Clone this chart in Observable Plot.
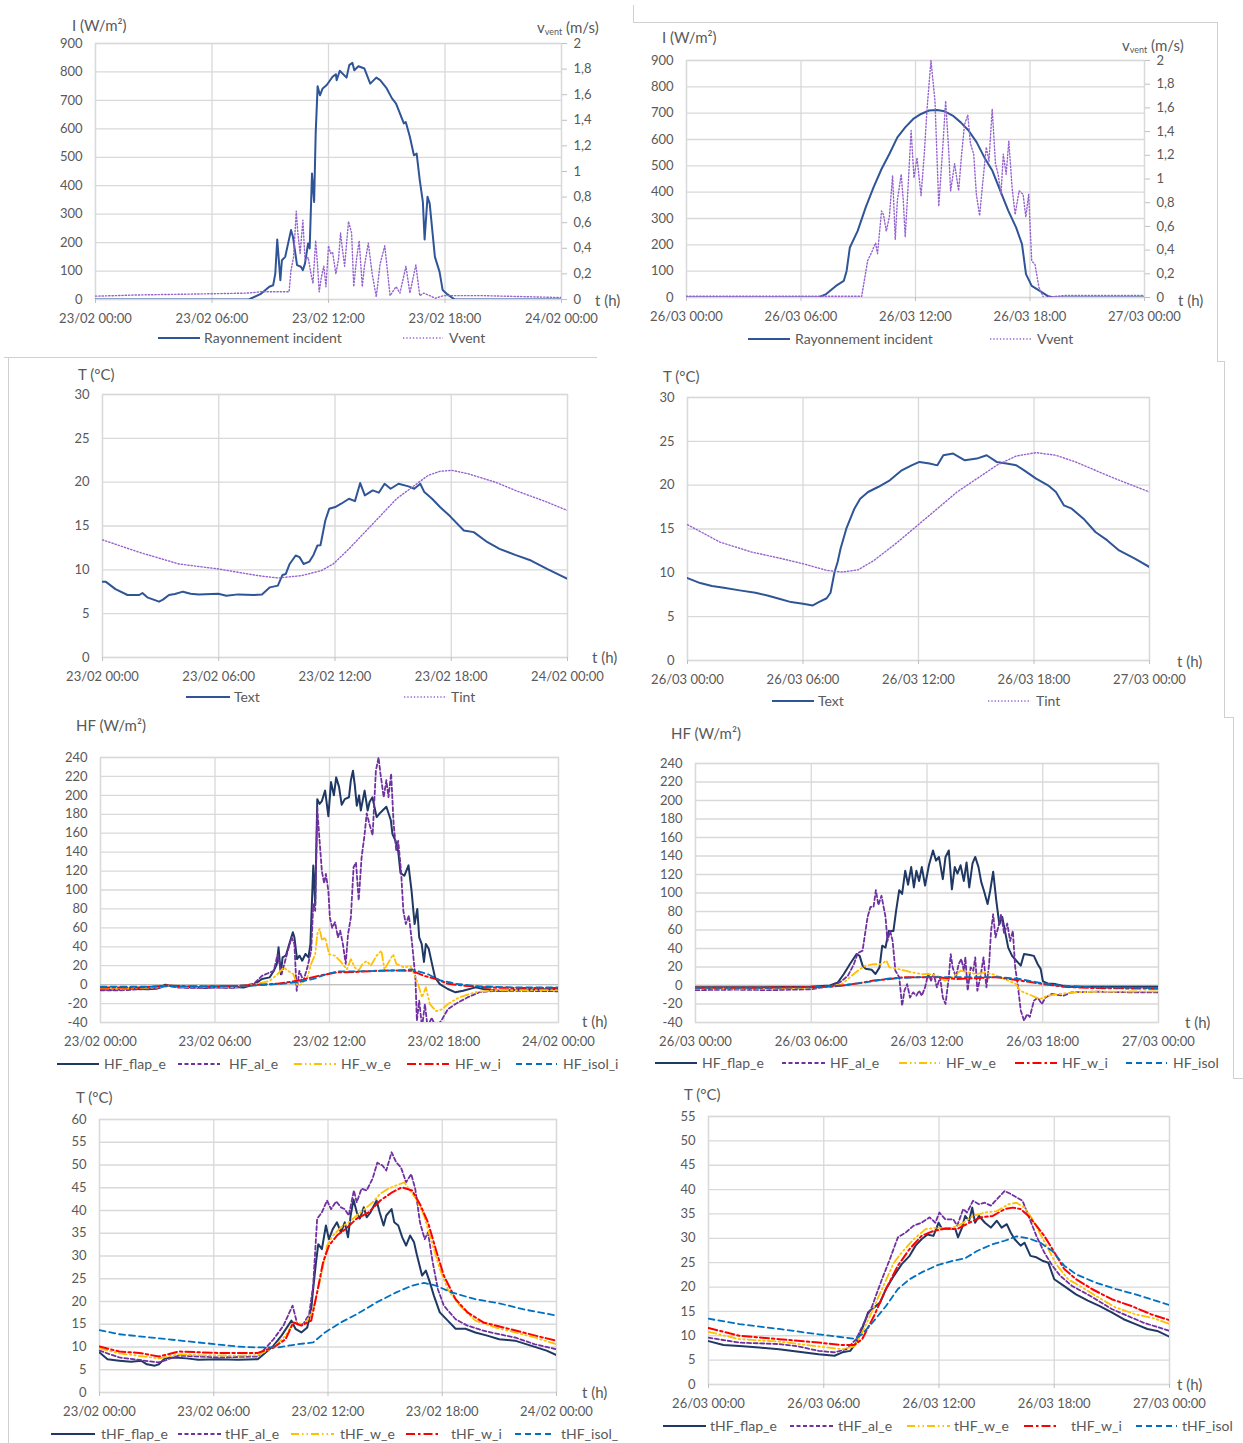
<!DOCTYPE html>
<html><head><meta charset="utf-8">
<script src="https://cdn.jsdelivr.net/npm/d3@7"></script>
<script src="https://cdn.jsdelivr.net/npm/@observablehq/plot@0.6"></script>
<style>
body{margin:0;background:#fff;}
#page{position:relative;width:1243px;height:1443px;overflow:hidden;font-family:Lato,"Open Sans",sans-serif;color:#595959;background:#fff;}
.abs{position:absolute;white-space:nowrap;}
.title{font-size:15px;line-height:20px;}
.title2{font-size:15px;line-height:16px;}
.leg{font-size:14px;line-height:16px;}
.sw{position:absolute;line-height:0;}
.sw svg{display:block;}
.bd{position:absolute;background:#d0d0d0;}
sub{font-size:9px;vertical-align:-2px;line-height:0;}
</style></head><body><div id="page"></div>
<script>
// ---------- tick values and labels ----------
const hourTicks = [0, 6, 12, 18, 24];
const xLabFeb = ["23/02 00:00", "23/02 06:00", "23/02 12:00", "23/02 18:00", "24/02 00:00"];
const xLabMar = ["26/03 00:00", "26/03 06:00", "26/03 12:00", "26/03 18:00", "27/03 00:00"];
const irrTicks = [0, 100, 200, 300, 400, 500, 600, 700, 800, 900];
const windTicks = [0, 0.2, 0.4, 0.6, 0.8, 1, 1.2, 1.4, 1.6, 1.8, 2];
const windLabels = ["0", "0,2", "0,4", "0,6", "0,8", "1", "1,2", "1,4", "1,6", "1,8", "2"];
const t30Ticks = [0, 5, 10, 15, 20, 25, 30];
const hfTicks = [-40, -20, 0, 20, 40, 60, 80, 100, 120, 140, 160, 180, 200, 220, 240];
const t60Ticks = [0, 5, 10, 15, 20, 25, 30, 35, 40, 45, 50, 55, 60];
const t55Ticks = [0, 5, 10, 15, 20, 25, 30, 35, 40, 45, 50, 55];
const windToIrr = 450; // right axis 2 m/s  <->  900 W/m²

// ---------- series: [hour, value] ----------
const irrFeb = [[0,0],[7.9,0],[8.54,21],[8.95,45],[9.15,50],[9.26,91],[9.36,211],[9.52,68],[9.6,138],[9.77,150],[10.07,244],[10.17,220],[10.38,121],[10.58,115],[10.68,103],[10.79,127],[10.95,197],[11.03,179],[11.15,443],[11.26,343],[11.34,584],[11.44,750],[11.56,718],[11.7,742],[11.91,754],[12.21,783],[12.38,792],[12.42,771],[12.58,804],[12.93,780],[13.07,824],[13.23,832],[13.33,806],[13.54,820],[13.85,812],[14.15,759],[14.46,780],[14.66,771],[14.97,745],[15.27,707],[15.48,689],[15.88,619],[15.98,624],[16.19,572],[16.4,507],[16.54,513],[16.7,420],[16.86,343],[16.95,211],[17.1,361],[17.21,338],[17.48,150],[17.72,97],[17.88,33],[18.13,18],[18.5,0],[24,0]];
const windFeb = [[0,0.026],[1,0.03],[2,0.035],[4,0.04],[6,0.045],[7.8,0.05],[8.5,0.06],[9.97,0.06],[10.07,0.23],[10.2,0.33],[10.34,0.69],[10.42,0.52],[10.54,0.36],[10.68,0.62],[10.79,0.31],[10.95,0.33],[11.1,0.2],[11.2,0.125],[11.34,0.46],[11.44,0.26],[11.52,0.06],[11.64,0.18],[11.76,0.26],[11.87,0.1],[12.0,0.42],[12.11,0.36],[12.21,0.37],[12.38,0.2],[12.52,0.32],[12.62,0.52],[12.72,0.39],[12.83,0.26],[13.03,0.61],[13.19,0.52],[13.3,0.1],[13.44,0.31],[13.58,0.46],[13.74,0.1],[13.85,0.26],[14.05,0.44],[14.25,0.2],[14.46,0.02],[14.66,0.28],[14.9,0.42],[15.17,0.03],[15.48,0.1],[15.68,0.05],[15.99,0.26],[16.19,0.05],[16.5,0.27],[16.7,0.03],[16.91,0.05],[17.21,0.03],[17.5,0.01],[17.93,0.03],[20,0.03],[24,0.015]];
const irrMar = [[0,0],[6.9,0],[7.32,13],[7.83,44],[8.24,63],[8.39,101],[8.56,190],[8.97,253],[9.39,342],[9.8,418],[10.22,488],[10.63,545],[11.05,608],[11.46,646],[11.88,678],[12.29,697],[12.71,710],[13.12,712],[13.53,707],[13.95,691],[14.37,665],[14.78,634],[15.2,590],[15.61,532],[16.03,481],[16.44,406],[16.86,330],[17.27,266],[17.58,203],[17.79,89],[18.09,44],[18.51,25],[18.92,6],[19.23,0],[24,0]];
const windMar = [[0,0.01],[9.18,0.01],[9.49,0.31],[9.7,0.38],[9.8,0.42],[9.91,0.46],[10.01,0.37],[10.22,0.73],[10.32,0.7],[10.47,0.56],[10.63,0.68],[10.8,1.03],[10.94,0.49],[11.05,0.82],[11.25,1.04],[11.36,0.82],[11.46,0.51],[11.61,0.93],[11.77,1.41],[11.92,1.01],[12.08,1.18],[12.29,0.86],[12.46,1.21],[12.6,1.58],[12.81,2.0],[13.02,1.66],[13.22,0.77],[13.43,1.27],[13.58,1.66],[13.74,1.24],[13.84,0.9],[14.05,1.13],[14.26,0.9],[14.4,1.18],[14.57,1.46],[14.74,1.54],[14.88,1.3],[15.05,1.21],[15.19,0.87],[15.36,0.69],[15.5,0.93],[15.71,1.27],[15.85,1.15],[16.02,1.59],[16.19,1.13],[16.33,1.04],[16.48,0.87],[16.6,1.21],[16.75,1.04],[16.89,1.32],[17.06,0.93],[17.22,0.7],[17.43,0.9],[17.64,0.87],[17.78,0.68],[17.93,0.87],[18.09,0.31],[18.26,0.28],[18.47,0.085],[18.71,0.0],[19.85,0.017],[24,0.017]];

const textFeb = [[0,8.65],[0.16,8.65],[0.67,7.8],[1.29,7.13],[1.9,7.13],[2.06,7.36],[2.31,6.86],[2.92,6.37],[3.12,6.6],[3.43,7.13],[3.74,7.24],[4.15,7.51],[4.55,7.28],[4.96,7.2],[5.98,7.28],[6.39,7.05],[7.0,7.2],[7.82,7.13],[8.23,7.2],[8.64,8.0],[9.05,8.2],[9.29,9.42],[9.46,9.53],[9.66,10.67],[9.97,11.63],[10.17,11.45],[10.38,10.67],[10.68,10.94],[10.89,11.7],[11.09,12.77],[11.25,12.8],[11.5,15.63],[11.7,16.96],[12.01,17.16],[12.32,17.54],[12.72,18.11],[13.03,17.84],[13.3,19.9],[13.54,18.49],[13.95,19.06],[14.26,18.8],[14.56,19.82],[14.87,19.25],[15.28,19.82],[15.79,19.52],[16.09,19.25],[16.4,19.82],[16.61,18.87],[17.01,18.11],[17.42,17.16],[17.93,16.13],[18.65,14.49],[19.16,14.3],[19.87,13.15],[20.49,12.39],[21.3,11.7],[22.12,11.06],[22.94,10.1],[24,8.96]];
const tintFeb = [[0,13.42],[1.9,12.0],[3.94,10.67],[5.98,10.1],[8.03,9.34],[9.05,9.07],[10.27,9.34],[11.29,9.91],[11.91,10.67],[12.72,12.39],[13.54,14.3],[14.36,16.2],[15.18,18.11],[15.99,19.44],[16.81,20.78],[17.42,21.24],[18.04,21.35],[18.85,20.97],[20.28,20.0],[21.3,19.06],[22.94,17.73],[24,16.77]];
const textMar = [[0,9.4],[0.66,8.83],[1.27,8.49],[1.89,8.3],[2.71,8.0],[3.53,7.73],[4.15,7.42],[4.76,7.04],[5.38,6.66],[6.0,6.47],[6.51,6.28],[6.82,6.66],[7.23,7.1],[7.43,7.73],[7.64,10.1],[7.8,11.23],[7.95,12.75],[8.25,15.03],[8.67,17.32],[8.97,18.46],[9.38,19.22],[9.9,19.79],[10.51,20.55],[11.13,21.69],[11.64,22.26],[12.05,22.65],[12.57,22.46],[12.98,22.26],[13.29,23.41],[13.8,23.6],[14.41,22.84],[15.03,23.03],[15.54,23.41],[16.06,22.65],[16.57,22.46],[17.08,22.26],[17.49,21.69],[18.11,20.74],[18.73,19.98],[19.14,19.22],[19.55,17.7],[19.96,17.32],[20.57,16.18],[21.19,14.66],[21.81,13.7],[22.42,12.56],[23.24,11.61],[24,10.66]];
const tintMar = [[0,15.49],[1.68,13.51],[3.33,12.37],[4.76,11.69],[6.0,11.04],[7.23,10.28],[8.05,10.09],[8.87,10.35],[9.69,11.42],[10.92,13.51],[11.95,15.42],[12.98,17.32],[14.0,19.22],[15.03,20.74],[16.06,22.26],[17.08,23.33],[18.11,23.71],[19.14,23.41],[20.16,22.65],[21.19,21.69],[22.22,20.74],[23.24,19.87],[24,19.22]];

const hfFlapFeb = [[0,-5],[0.5,-5.5],[1,-5],[1.5,-4],[2,-4.5],[2.5,-5],[3,-4],[3.4,0],[3.6,-1],[4,-2],[4.5,-3],[5,-2.5],[5.5,-3.5],[6,-2.5],[6.5,-3],[7,-2.5],[7.5,-3],[8.04,0],[8.46,6],[8.87,7.7],[9.08,14.7],[9.24,21.8],[9.33,39.5],[9.45,11],[9.54,28.8],[9.71,30.6],[9.92,44.7],[10.08,55.3],[10.16,50],[10.3,27],[10.43,30.6],[10.57,25.3],[10.74,32.4],[10.9,28.8],[11.0,43],[11.15,126],[11.25,85],[11.36,196],[11.48,191],[11.6,194],[11.77,205],[11.94,178],[12.08,214],[12.23,200],[12.35,219],[12.5,209],[12.64,190],[12.8,196],[13.02,198],[13.12,216],[13.23,226],[13.33,210],[13.43,189],[13.55,200],[13.64,184],[13.84,205],[14.0,184],[14.1,193],[14.25,198],[14.47,177],[14.63,181],[14.78,184],[14.98,188],[15.21,174],[15.3,159],[15.46,152],[15.6,141],[15.72,118],[15.92,115],[16.14,126],[16.3,99],[16.46,64],[16.6,80],[16.7,50],[16.83,43],[16.95,24],[17.05,43],[17.2,38],[17.37,22],[17.53,7.7],[17.78,0.6],[18.2,-4.6],[18.6,-8.1],[19.0,-6.4],[19.65,-2.9],[20.06,-4.6],[20.9,-6.4],[21.7,-5.7],[24,-4.6]];
const hfAlFeb = [[0,-6],[1,-6],[2,-5],[3,-4],[3.5,-1],[4,-3],[5,-3.5],[6,-3],[7,-3.5],[8.04,1],[8.46,9.3],[9.08,14.6],[9.28,32],[9.49,11],[9.7,27],[10.01,50],[10.16,43],[10.28,-6.5],[10.42,14.6],[10.63,4],[10.84,18],[11.04,36],[11.15,85],[11.25,78],[11.36,187],[11.48,152],[11.6,120],[11.72,107],[11.81,117],[11.94,99],[12.02,71],[12.14,60],[12.29,66],[12.44,50],[12.56,57],[12.7,43],[12.85,22],[12.97,53],[13.12,71],[13.26,124],[13.39,129],[13.53,89],[13.68,134],[13.84,159],[13.95,181],[14.09,170],[14.26,158],[14.43,226],[14.57,240],[14.67,223],[14.84,198],[14.98,216],[15.09,198],[15.23,223],[15.36,170],[15.5,141],[15.6,152],[15.75,120],[15.87,78],[16.0,64],[16.16,73],[16.33,43],[16.5,7.7],[16.58,-38],[16.7,-17],[16.85,-45],[17.0,-20.5],[17.14,-45],[17.35,-35],[17.58,-45],[17.86,-38],[18.2,-26],[18.6,-20.5],[19.23,-13.5],[19.86,-8],[20.68,-6.5],[21.72,-6.5],[24,-7]];
const hfWeFeb = [[0,-4],[1,-4.5],[2,-3.5],[3,-3],[3.5,-1],[4,-2],[5,-2.5],[6,-2],[7,-2.5],[8.04,0],[8.87,4],[9.08,7.7],[9.28,11],[9.6,18],[9.8,15],[10.11,11],[10.32,-1],[10.53,0.6],[10.84,7.7],[11.04,22],[11.25,32],[11.36,53.6],[11.48,59],[11.61,46.5],[11.77,50],[11.98,32],[12.29,30.6],[12.6,24],[12.91,16],[13.12,27],[13.33,18],[13.53,15],[13.74,22],[13.95,25],[14.16,20],[14.47,30.6],[14.72,36],[14.88,16],[15.19,27],[15.34,32],[15.5,22],[15.92,18],[16.23,20],[16.44,11],[16.64,0.6],[16.85,-13.5],[17.05,-2.9],[17.26,-20.5],[17.58,-28],[17.9,-26],[18.2,-20.5],[18.8,-13.5],[19.65,-8],[20.68,-5.7],[21.72,-5.7],[24,-5.7]];
const hfWiFeb = [[0,-3],[2,-3],[3.5,-1],[5,-2],[7,-1.5],[8,-0.5],[9.28,1],[10.32,4],[11.36,9],[12.4,13],[13.43,13.5],[14.47,14.6],[15.5,15],[16.32,14.6],[16.95,9.3],[17.58,6],[18.2,1],[19.03,-1],[20.28,-3],[21.72,-3.5],[24,-3.5]];
const hfIsolFeb = [[0,-2],[3,-2],[6,-1.5],[8,-1],[9.28,0.6],[10.32,2.4],[11.15,6],[11.77,10.5],[12.4,14],[13.43,14],[14.47,14.6],[15.5,15],[16.33,16],[17.16,11],[17.78,4.8],[18.6,1],[19.65,-1.5],[21.7,-3],[24,-3]];

const hfFlapMar = [[0,-2],[3,-2],[5.95,-1.3],[6.97,0],[7.38,3.4],[7.69,12.4],[8.0,23],[8.35,34],[8.51,32],[8.66,21.5],[8.82,18],[9.13,17],[9.33,12.4],[9.54,19.6],[9.68,43],[9.85,41],[10.01,59],[10.26,59],[10.4,81],[10.56,103],[10.71,99],[10.87,124],[11.02,109],[11.18,128],[11.32,106],[11.45,124],[11.59,113],[11.73,128],[11.9,108],[12.1,130],[12.31,146],[12.47,135],[12.62,139],[12.82,115],[12.96,139],[13.13,146],[13.29,104],[13.44,128],[13.58,121],[13.74,130],[13.91,113],[14.05,133],[14.19,106],[14.36,132],[14.5,139],[14.67,128],[14.81,112],[14.97,101],[15.14,88],[15.28,103],[15.43,123],[15.59,92],[15.75,66],[15.9,74],[16.04,59],[16.21,41],[16.41,32],[16.62,27],[16.86,21.5],[17.03,34],[17.33,33],[17.54,32],[17.74,23],[17.89,18],[18.01,4.5],[18.26,2.3],[18.67,1.5],[19.28,-1.3],[20.72,-1.3],[24,-1.3]];
const hfAlMar = [[0,-5],[2,-4.5],[4,-5],[6,-4],[6.36,-2.8],[7.18,0],[7.59,5],[7.9,10.6],[8.21,23],[8.41,35],[8.66,37.7],[8.92,74],[9.07,85],[9.23,85],[9.35,103],[9.48,87],[9.64,97],[9.85,74],[9.95,48],[10.09,59],[10.22,48],[10.36,16],[10.56,9],[10.71,-22],[10.83,-5.6],[10.97,1.5],[11.12,-13],[11.28,-7.4],[11.45,-11],[11.59,-5.6],[11.73,-11],[11.9,-2],[12.06,12.4],[12.21,5.3],[12.35,12.4],[12.51,-2],[12.68,9],[12.82,-13],[12.96,-20],[13.13,9],[13.23,34],[13.33,19.6],[13.5,9],[13.64,23],[13.78,28.7],[13.91,16],[13.99,30.5],[14.11,-5.6],[14.26,19.6],[14.4,16],[14.5,30.5],[14.61,-5.6],[14.77,9],[14.93,30.5],[15.08,-2],[15.22,23],[15.32,59],[15.43,77],[15.55,52],[15.69,63],[15.84,77],[16.0,56],[16.16,67],[16.31,48],[16.45,59],[16.57,20],[16.72,-2],[16.86,-27],[17.03,-38],[17.19,-31],[17.33,-34],[17.54,-16.5],[17.74,-13],[17.95,-20],[18.15,-13],[18.46,-9.2],[19.08,-11],[19.49,-7.4],[20.72,-6.7],[22.77,-7.4],[24,-7.4]];
const hfWeMar = [[0,-3],[3,-3.5],[5,-3],[6.97,-1.5],[7.59,1.5],[8.0,9],[8.41,16],[8.82,21.5],[9.23,23],[9.64,23],[9.89,27],[10.05,19.6],[10.46,18],[10.87,16],[11.28,14],[11.69,12.4],[12.1,12.4],[12.51,10.6],[12.92,5.3],[13.33,9],[13.74,16],[14.15,14],[14.56,12.4],[14.97,14],[15.38,12.4],[15.8,9],[16.21,5.3],[16.62,1.5],[16.82,-5.6],[17.23,-9.2],[17.85,-14.6],[18.26,-11],[18.87,-9.2],[19.69,-7.4],[20.72,-6.7],[24,-6.3]];
const hfWiMar = [[0,-2.5],[3,-2.5],[5,-2],[6.97,-1.3],[7.59,0],[8.41,2.3],[9.23,5.3],[10.05,7],[10.87,9],[12.51,9],[13.54,7],[14.56,8],[15.59,9],[16.62,6],[17.44,3.4],[18.05,1.5],[19.08,-1.3],[20.72,-2.8],[24,-3.5]];
const hfIsolMar = [[0,-2.5],[4,-2.5],[6,-2],[7.59,0],[8.82,3.4],[10.05,7.7],[11.69,9],[13.54,9],[15.59,9],[16.62,7.7],[17.44,4.5],[18.05,2.3],[18.87,0],[20.72,-2],[24,-2.8]];

const tFlapFeb = [[0,8.8],[0.42,7.3],[1.04,7.0],[1.66,6.75],[2.18,7.0],[2.49,6.2],[2.91,5.9],[3.12,6.2],[3.43,7.5],[3.95,7.7],[4.57,7.5],[5.19,7.2],[6.23,7.3],[7.27,7.2],[8.31,7.3],[8.62,8.4],[9.14,10.3],[9.56,12.5],[10.08,15.8],[10.29,14],[10.6,13.2],[10.91,14.3],[11.12,18.4],[11.22,22.7],[11.37,28.6],[11.49,32.6],[11.68,31.5],[11.89,36.7],[12.05,33.7],[12.26,36.0],[12.47,37.4],[12.68,35.2],[12.88,37.4],[13.05,34.1],[13.19,38.9],[13.34,42.4],[13.51,39.6],[13.67,38.2],[13.88,40.7],[14.03,38.5],[14.23,39.6],[14.55,42.2],[14.71,39.6],[14.92,36.7],[15.06,38.9],[15.34,40.3],[15.48,37.4],[15.69,36.7],[15.9,34.1],[16.1,32.3],[16.31,34.5],[16.52,33],[16.66,30.4],[16.94,25.7],[17.14,26.8],[17.35,24.2],[17.56,21.3],[17.87,17.6],[18.29,15.8],[18.7,14],[19.22,14],[19.74,13.2],[20.36,12.5],[20.99,11.7],[21.82,11.4],[22.65,10.3],[23.48,9.2],[24,8.2]];
const tAlFeb = [[0,9.2],[1.04,7.7],[3.12,6.6],[4.16,8.1],[6.23,7.7],[8.31,7.9],[9.14,11.7],[9.66,14.7],[10.14,19.1],[10.39,15],[10.7,15],[11.01,17.2],[11.22,23.5],[11.43,38.2],[11.68,39.6],[11.95,42.2],[12.16,40.3],[12.43,42],[12.68,40.7],[12.88,40.3],[13.09,38.9],[13.36,44.4],[13.51,41.8],[13.76,44.8],[14.03,44.4],[14.34,47],[14.59,50.5],[14.86,49.9],[15.06,48.8],[15.34,52.8],[15.58,50.6],[15.83,49.5],[16.1,46.2],[16.37,48],[16.58,44.8],[16.83,37.4],[17.08,33.7],[17.25,35.2],[17.5,28.6],[17.77,22.7],[18.08,19.1],[18.7,16.1],[19.32,14.7],[20.16,13.6],[20.99,12.8],[21.82,12.1],[22.86,10.6],[24,9.5]];
const tWeFeb = [[0,9.7],[1.04,8.6],[3.12,7.5],[4.16,8.4],[5.19,8.2],[7.27,8.1],[8.31,8.2],[9.14,9.9],[9.77,12.5],[10.18,15.4],[10.81,15],[11.22,18.3],[11.64,25.7],[11.95,32.3],[12.26,34.5],[12.68,36.3],[13.09,37.4],[13.51,38.9],[13.92,40.3],[14.34,41.8],[14.75,43.7],[15.17,44.8],[15.58,45.5],[16.0,46.2],[16.31,44.4],[16.62,42.6],[17.04,38.9],[17.45,33],[17.87,27.2],[18.29,22.7],[18.91,19.1],[19.74,15.8],[20.78,14.3],[21.82,13.2],[22.86,12.1],[24,10.6]];
const tWiFeb = [[0,10.1],[1.04,9],[2.08,8.7],[3.12,7.9],[4.16,9],[6.23,8.7],[8.31,8.7],[9.14,9.9],[9.77,11.7],[10.18,15.4],[10.6,14.7],[11.12,15.8],[11.43,22],[11.74,28.6],[12.05,32.3],[12.47,34.5],[12.88,35.8],[13.51,38.2],[14.13,39.6],[14.75,42.2],[15.37,44],[15.88,45.1],[16.42,44.4],[16.83,41.4],[17.25,37.4],[17.66,31.5],[18.08,25.7],[18.7,20.5],[19.33,17.6],[20.16,15.4],[21.2,14.3],[22.24,13.2],[23.27,12.1],[24,11.4]];
const tIsolFeb = [[0,13.7],[1.04,12.8],[3.12,11.9],[5.19,11],[7.27,10.1],[8.31,9.9],[9.35,9.9],[10.39,10.6],[11.22,11],[11.84,13.2],[12.68,15.4],[13.51,17.2],[14.55,19.8],[15.58,22],[16.42,23.5],[17.04,24.1],[17.66,23.5],[18.49,22],[19.74,20.5],[20.99,19.6],[22.24,18.3],[24,16.9]];

const tFlapMar = [[0,8.9],[0.78,8.1],[1.61,7.9],[2.64,7.6],[3.67,7.25],[4.7,6.7],[5.73,6.2],[6.56,5.9],[6.97,6.6],[7.38,6.9],[7.69,8.6],[8.0,11.4],[8.31,14.8],[8.62,15.8],[8.93,16.8],[9.24,19.6],[9.65,22.3],[10.06,24.7],[10.47,26.4],[10.78,28.5],[11.09,29.8],[11.4,30.8],[11.71,30.5],[11.98,33.2],[12.16,31.9],[12.54,32],[12.85,31.9],[12.99,30.2],[13.2,32.2],[13.36,34.6],[13.57,33.6],[13.73,36.3],[13.88,33.2],[14.08,34.6],[14.39,33.2],[14.7,32.2],[15.01,33.6],[15.26,32.2],[15.53,32.9],[15.73,31.2],[15.94,29.8],[16.25,28.5],[16.45,29.1],[16.76,26.4],[17.07,26.1],[17.38,25.4],[17.69,25.0],[18.0,21.6],[18.52,20.2],[19.13,18.5],[19.75,17.2],[20.37,16.1],[20.99,14.8],[21.61,13.4],[22.23,12.4],[22.85,11.4],[23.36,11.0],[24,9.8]];
const tAlMar = [[0,9.6],[1.61,8.6],[3.67,8.3],[4.7,7.8],[5.73,6.9],[6.56,6.6],[7.18,7.25],[7.69,9.3],[8.1,12.7],[8.52,16.1],[9.03,21.6],[9.44,25.7],[9.86,30.2],[10.27,31.2],[10.68,32.6],[11.09,33.2],[11.51,34.3],[11.81,33.2],[12.02,35.3],[12.33,33.9],[12.74,33.9],[12.95,32.6],[13.26,36.0],[13.46,35.3],[13.77,37.7],[14.08,37.0],[14.39,37.3],[14.7,36.7],[15.01,38.0],[15.42,39.7],[15.73,39.1],[16.04,38.4],[16.35,37.7],[16.66,34.6],[17.07,30.5],[17.48,27.1],[17.9,24.4],[18.31,22.3],[18.93,20.2],[19.55,18.9],[20.16,17.5],[20.99,15.5],[21.81,14.1],[22.64,12.7],[24,11.0]];
const tWeMar = [[0,10.8],[1.61,9.3],[3.67,8.8],[5.73,7.8],[6.97,7.25],[7.59,7.8],[8.0,10.7],[8.41,14.1],[9.03,19.6],[9.65,25],[10.06,27.1],[10.68,29.8],[11.3,31.9],[11.92,32.2],[12.54,31.9],[13.15,32.9],[13.77,34.6],[14.39,35.3],[15.01,35.6],[15.63,37.0],[16.04,37.3],[16.45,36.3],[16.87,33.9],[17.28,30.8],[17.69,27.8],[18.1,24.7],[18.72,21.6],[19.34,20.2],[20.16,18.2],[21.2,15.8],[22.23,14.4],[23.26,13.5],[24,12.4]];
const tWiMar = [[0,11.6],[1.61,10.0],[3.67,9.3],[5.73,8.6],[6.97,8.1],[7.59,8.1],[8.0,9.3],[8.62,14.1],[9.24,19.6],[9.86,24.4],[10.47,27.8],[11.09,30.5],[11.71,31.5],[12.33,32],[12.95,31.9],[13.57,33.2],[14.19,34.3],[14.8,34.6],[15.42,36.0],[15.84,36.3],[16.25,36.0],[16.66,34.6],[17.07,32.6],[17.48,30.5],[17.9,27.8],[18.52,23.7],[19.14,21.6],[19.96,19.6],[20.99,17.5],[22.02,16.1],[23.05,14.4],[24,13.2]];
const tIsolMar = [[0,13.5],[1.61,12.4],[3.67,11.4],[5.73,10.3],[6.76,9.8],[7.59,9.4],[8.0,10.3],[8.62,13.1],[9.24,16.1],[9.86,19.6],[10.47,21.6],[11.09,23],[11.92,24.5],[12.74,25.4],[13.36,25.9],[13.98,27.4],[14.8,28.8],[15.42,29.5],[16.04,30.4],[16.66,30.0],[17.28,29.1],[17.9,27.4],[18.52,24.4],[19.14,22.6],[20.16,20.9],[21.2,19.6],[22.23,18.5],[24,16.3]];

// ---------- styles ----------
const ST = {
  irr:  {color: "#2F5597", width: 2},
  wind: {color: "#9563D0", width: 1.4, dash: "1.3,2"},
  flap: {color: "#1F3864", width: 2},
  al:   {color: "#7030A0", width: 1.8, dash: "4,2.5"},
  we:   {color: "#FFC000", width: 1.8, dash: "8,3,1.5,3,1.5,3"},
  wi:   {color: "#FF0000", width: 2, dash: "9,3,2.5,3"},
  isol: {color: "#0070C0", width: 1.8, dash: "6,4"}
};
const GRID = "#d9d9d9", TXT = "#595959";
const page = document.getElementById("page");
const fmtNum = d => String(d);

function makePanel(p) {
  const x0 = p.left - 62, y0 = p.top - 12;
  const W = p.right - p.left + 62 + 55, H = p.bottom - p.top + 12 + 36;
  const marks = [
    Plot.ruleY(p.yTicks, {y: d => d, stroke: GRID, strokeWidth: 1.3}),
    Plot.ruleX(hourTicks, {x: d => d, stroke: GRID, strokeWidth: 1.3}),
    Plot.frame({stroke: GRID, strokeWidth: 1.3})
  ];
  if (p.zero) marks.push(Plot.ruleY([0], {stroke: "#bfbfbf", strokeWidth: 1.3}));
  for (const s of p.series) {
    const st = ST[s.style], k = s.k || 1;
    marks.push(Plot.line(s.data, {x: d => d[0], y: d => d[1] * k, stroke: st.color, strokeWidth: st.width, strokeDasharray: st.dash, clip: true}));
  }
  marks.push(Plot.axisX(hourTicks, {tickFormat: d => p.xLabels[hourTicks.indexOf(d)], tickSize: p.xTick, tickPadding: 14 - p.xTick, stroke: "#bfbfbf", fill: TXT, label: null}));
  marks.push(Plot.axisY(p.yTicks, {tickFormat: fmtNum, tickSize: 0, tickPadding: 13, fill: TXT, label: null}));
  if (p.windAxis) marks.push(Plot.axisY(windTicks, {anchor: "right", y: d => d * windToIrr, tickFormat: d => windLabels[windTicks.indexOf(d)], tickSize: 5, tickPadding: 7, stroke: "#bfbfbf", fill: TXT, label: null}));
  const svg = Plot.plot({
    width: W, height: H,
    marginLeft: p.left - x0, marginRight: x0 + W - p.right,
    marginTop: p.top - y0, marginBottom: y0 + H - p.bottom,
    x: {domain: [0, 24]}, y: {domain: p.yDomain},
    style: {fontFamily: "Lato, 'Open Sans', sans-serif", fontSize: "13px", color: TXT, background: "none", overflow: "visible"},
    marks
  });
  const wrap = document.createElement("div");
  wrap.className = "abs";
  wrap.style.left = x0 + "px"; wrap.style.top = y0 + "px"; wrap.style.width = W + "px"; wrap.style.height = H + "px";
  wrap.appendChild(svg);
  page.appendChild(wrap);
}

function addText(html, x, yc, cls) {
  const d = document.createElement("div");
  d.className = "abs " + cls;
  d.innerHTML = html;
  d.style.left = x + "px";
  const half = cls === "title" ? 10 : 8;
  d.style.top = (yc - half) + "px";
  page.appendChild(d);
}
function addLegend(y, items) {
  for (const [sx, ex, tx, label, style] of items) {
    const st = ST[style];
    const w = ex - sx;
    const d = document.createElement("div");
    d.className = "sw";
    d.style.left = sx + "px"; d.style.top = (y - 5) + "px";
    d.innerHTML = `<svg width="${w}" height="10"><line x1="0" x2="${w}" y1="5" y2="5" stroke="${st.color}" stroke-width="${st.width}" ${st.dash ? `stroke-dasharray="${st.dash}"` : ""}/></svg>`;
    page.appendChild(d);
    addText(label, tx, y, "leg");
  }
}
function border(x, y, w, h) {
  const d = document.createElement("div");
  d.className = "bd";
  d.style.left = x + "px"; d.style.top = y + "px"; d.style.width = w + "px"; d.style.height = h + "px";
  page.appendChild(d);
}

// ---------- panels ----------
makePanel({left: 95, right: 561, top: 43, bottom: 299, yDomain: [0, 900], yTicks: irrTicks, xLabels: xLabFeb, xTick: 4, windAxis: true,
  series: [{data: irrFeb, style: "irr"}, {data: windFeb, style: "wind", k: windToIrr}]});
makePanel({left: 686, right: 1144, top: 60, bottom: 297, yDomain: [0, 900], yTicks: irrTicks, xLabels: xLabMar, xTick: 4, windAxis: true,
  series: [{data: irrMar, style: "irr"}, {data: windMar, style: "wind", k: windToIrr}]});
makePanel({left: 102, right: 567, top: 394, bottom: 657, yDomain: [0, 30], yTicks: t30Ticks, xLabels: xLabFeb, xTick: 4,
  series: [{data: textFeb, style: "irr"}, {data: tintFeb, style: "wind"}]});
makePanel({left: 687, right: 1149, top: 397, bottom: 660, yDomain: [0, 30], yTicks: t30Ticks, xLabels: xLabMar, xTick: 4,
  series: [{data: textMar, style: "irr"}, {data: tintMar, style: "wind"}]});
makePanel({left: 100, right: 558, top: 757, bottom: 1022, yDomain: [-40, 240], yTicks: hfTicks, xLabels: xLabFeb, xTick: 0, zero: true,
  series: [{data: hfFlapFeb, style: "flap"}, {data: hfAlFeb, style: "al"}, {data: hfWeFeb, style: "we"}, {data: hfWiFeb, style: "wi"}, {data: hfIsolFeb, style: "isol"}]});
makePanel({left: 695, right: 1158, top: 763, bottom: 1022, yDomain: [-40, 240], yTicks: hfTicks, xLabels: xLabMar, xTick: 0, zero: true,
  series: [{data: hfFlapMar, style: "flap"}, {data: hfAlMar, style: "al"}, {data: hfWeMar, style: "we"}, {data: hfWiMar, style: "wi"}, {data: hfIsolMar, style: "isol"}]});
makePanel({left: 99, right: 556, top: 1119, bottom: 1392, yDomain: [0, 60], yTicks: t60Ticks, xLabels: xLabFeb, xTick: 4,
  series: [{data: tFlapFeb, style: "flap"}, {data: tAlFeb, style: "al"}, {data: tWeFeb, style: "we"}, {data: tWiFeb, style: "wi"}, {data: tIsolFeb, style: "isol"}]});
makePanel({left: 708, right: 1169, top: 1116, bottom: 1384, yDomain: [0, 55], yTicks: t55Ticks, xLabels: xLabMar, xTick: 4,
  series: [{data: tFlapMar, style: "flap"}, {data: tAlMar, style: "al"}, {data: tWeMar, style: "we"}, {data: tWiMar, style: "wi"}, {data: tIsolMar, style: "isol"}]});

// ---------- axis titles ----------
const vTitle = "v<sub>vent</sub> (m/s)";
addText("I (W/m²)", 72, 25, "title"); addText(vTitle, 537, 27, "title2"); addText("t (h)", 595, 300, "title");
addText("I (W/m²)", 662, 37, "title"); addText(vTitle, 1122, 45, "title2"); addText("t (h)", 1178, 300, "title");
addText("T (°C)", 78, 374, "title"); addText("t (h)", 592, 657, "title");
addText("T (°C)", 663, 376, "title"); addText("t (h)", 1177, 661, "title");
addText("HF (W/m²)", 76, 725, "title"); addText("t (h)", 582, 1021, "title");
addText("HF (W/m²)", 671, 733, "title"); addText("t (h)", 1185, 1022, "title");
addText("T (°C)", 76, 1097, "title"); addText("t (h)", 582, 1392, "title");
addText("T (°C)", 684, 1094, "title"); addText("t (h)", 1177, 1384, "title");

// ---------- legends ----------
addLegend(338, [[158, 200, 204, "Rayonnement incident", "irr"], [403, 443, 449, "Vvent", "wind"]]);
addLegend(339, [[748, 790, 795, "Rayonnement incident", "irr"], [990, 1031, 1037, "Vvent", "wind"]]);
addLegend(697, [[186, 230, 234, "Text", "irr"], [404, 447, 451, "Tint", "wind"]]);
addLegend(701, [[772, 814, 818, "Text", "irr"], [988, 1031, 1036, "Tint", "wind"]]);
addLegend(1064, [[57, 99, 104, "HF_flap_e", "flap"], [178, 220, 229, "HF_al_e", "al"], [294, 336, 341, "HF_w_e", "we"], [407, 449, 455, "HF_w_i", "wi"], [516, 557, 563, "HF_isol_i", "isol"]]);
addLegend(1063, [[655, 697, 702, "HF_flap_e", "flap"], [782, 826, 830, "HF_al_e", "al"], [899, 940, 946, "HF_w_e", "we"], [1015, 1057, 1062, "HF_w_i", "wi"], [1126, 1167, 1173, "HF_isol", "isol"]]);
addLegend(1434, [[51, 95, 101, "tHF_flap_e", "flap"], [178, 221, 225, "tHF_al_e", "al"], [291, 334, 340, "tHF_w_e", "we"], [406, 441, 451, "tHF_w_i", "wi"], [515, 554, 561, "tHF_isol_", "isol"]]);
addLegend(1426, [[663, 706, 710, "tHF_flap_e", "flap"], [790, 834, 838, "tHF_al_e", "al"], [907, 950, 954, "tHF_w_e", "we"], [1024, 1059, 1071, "tHF_w_i", "wi"], [1136, 1177, 1182, "tHF_isol", "isol"]]);

// ---------- screenshot frame lines ----------
border(4, 357, 593, 1); border(8, 357, 1, 1086);
border(633, 5, 1, 17); border(633, 22, 584, 1); border(1217, 22, 1, 339);
border(1217, 361, 7, 1); border(1224, 361, 1, 356); border(1224, 717, 9, 1);
border(1233, 717, 1, 361); border(1233, 1078, 10, 1);
</script></body></html>
